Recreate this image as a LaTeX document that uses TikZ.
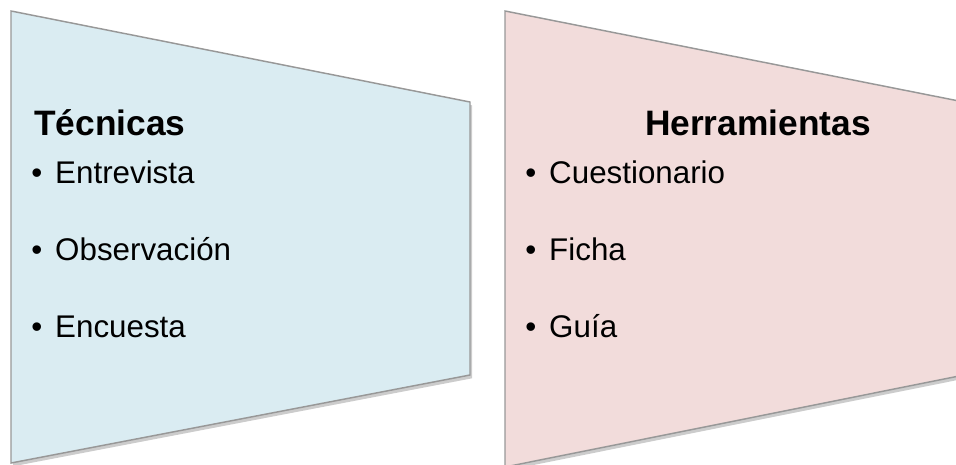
\documentclass[tikz,border=0pt]{standalone}
\usepackage{fontspec}
\setmainfont{Liberation Sans}
\usetikzlibrary{shadows}
\definecolor{panelblue}{HTML}{DAECF2}
\definecolor{panelpink}{HTML}{F2DCDB}
\definecolor{panelline}{HTML}{989898}
\tikzset{
  panel/.style={draw=panelline,line width=1.1pt,line join=miter,
    drop shadow={shadow xshift=1.5pt,shadow yshift=-2.5pt,opacity=0.4}},
  heading/.style={font=\fontsize{26.5}{30}\selectfont\bfseries,inner sep=0pt},
  item/.style={font=\fontsize{23.5}{26}\selectfont,anchor=base west,inner sep=0pt},
}
\newcommand{\bul}{\makebox[18pt][l]{\textbullet}}

\begin{document}
\begin{tikzpicture}[x=0.75pt,y=-0.75pt]
    \useasboundingbox (0,0) rectangle (956,464);
    \clip (0,0) rectangle (956,464);
    % the two panels
    \draw[panel,fill=panelblue] (11,11) -- (470,102) -- (470,375) -- (11,463) -- cycle;
    \draw[panel,fill=panelpink] (505,11) -- (964,102) -- (964,375) -- (505,467) -- cycle;
    % headings
    \node[heading,anchor=base west] (tec) at (34,135) {Técnicas};
    \node[heading,anchor=base] (her) at (758,135) {Herramientas};
    % bullet lists
    \foreach \t [count=\i] in {Entrevista,Observación,Encuesta}
      {\node[item] (tec\i) at (31,{183+77*(\i-1)}) {\bul\t};}
    \foreach \t [count=\i] in {Cuestionario,Ficha,Guía}
      {\node[item] (her\i) at (525,{183+77*(\i-1)}) {\bul\t};}
\end{tikzpicture}
\end{document}
